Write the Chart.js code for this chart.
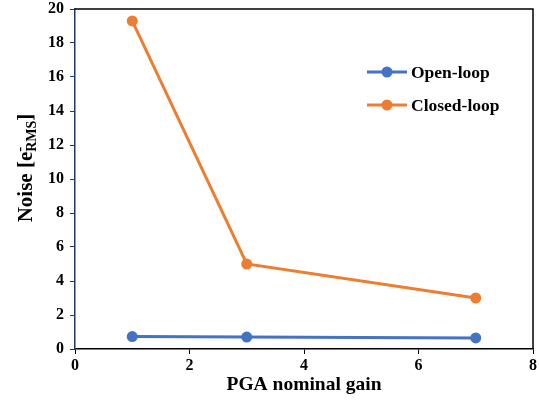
<!DOCTYPE html>
<html>
<head>
<meta charset="utf-8">
<script src="https://cdn.jsdelivr.net/npm/chart.js@4/dist/chart.umd.min.js"></script>
<style>
  html, body { margin: 0; padding: 0; background: #fff; }
  #wrap { width: 539px; height: 400px; position: relative; }
</style>
</head>
<body>
<div id="wrap"><canvas id="myChart"></canvas></div>
<script>
const gain = [1, 3, 7];
const openLoop = [0.73, 0.70, 0.65];
const closedLoop = [19.3, 5.0, 3.0];

const serif = "'Liberation Serif', 'Times New Roman', serif";

// box on top/right + legend + y title with sub/superscript
const extras = {
    id: 'extras',
    afterDraw(chart) {
        const c = chart.ctx;
        const a = chart.chartArea;
        c.save();
        c.strokeStyle = '#000';
        c.lineWidth = 1.5;
        c.beginPath();
        c.moveTo(a.left, a.top);
        c.lineTo(a.right, a.top);
        c.lineTo(a.right, a.bottom);
        c.stroke();

        // legend
        const rows = [72, 105];
        chart.data.datasets.forEach((ds, i) => {
            const y = rows[i];
            c.strokeStyle = ds.borderColor;
            c.lineWidth = 3;
            c.beginPath();
            c.moveTo(367, y);
            c.lineTo(407, y);
            c.stroke();
            c.fillStyle = ds.backgroundColor;
            c.beginPath();
            c.arc(387, y, 5.5, 0, Math.PI * 2);
            c.fill();
            c.fillStyle = '#000';
            c.font = 'bold 17.5px ' + serif;
            c.textBaseline = 'middle';
            c.textAlign = 'left';
            c.fillText(ds.label, 411, y + 1);
        });

        // y axis title
        c.translate(27, 168);
        c.rotate(-Math.PI / 2);
        c.fillStyle = '#000';
        c.textBaseline = 'middle';
        c.textAlign = 'left';
        const parts = [
            ['Noise [e', 'bold 21px', 0],
            ['-', 'bold 15px', -7],
            ['RMS', 'bold 14px', 5],
            [']', 'bold 21px', 0]
        ];
        let w = 0;
        parts.forEach((p, i) => { if (i === 1) return; c.font = p[1] + ' ' + serif; w += c.measureText(p[0]).width; });
        let x = -w / 2;
        parts.forEach((p, i) => {
            c.font = p[1] + ' ' + serif;
            c.fillText(p[0], x, p[2]);
            // superscript minus sits over the subscript
            if (i === 1) return;
            x += c.measureText(p[0]).width;
        });
        c.restore();
    }
};

new Chart(document.getElementById('myChart'), {
    type: 'line',
    data: {
        datasets: [{
            label: 'Open-loop',
            data: gain.map((g, i) => ({ x: g, y: openLoop[i] })),
            borderColor: '#4472C4',
            backgroundColor: '#4472C4',
            borderWidth: 3,
            pointRadius: 5.5,
            pointBorderWidth: 0,
            pointHoverRadius: 5.5
        }, {
            label: 'Closed-loop',
            data: gain.map((g, i) => ({ x: g, y: closedLoop[i] })),
            borderColor: '#ED7D31',
            backgroundColor: '#ED7D31',
            borderWidth: 3,
            pointRadius: 5.5,
            pointBorderWidth: 0,
            pointHoverRadius: 5.5
        }]
    },
    options: {
        responsive: true,
        maintainAspectRatio: false,
        animation: false,
        layout: { padding: { top: 9, right: 6, left: 0, bottom: 0 } },
        plugins: { legend: { display: false }, tooltip: { enabled: false } },
        scales: {
            x: {
                type: 'linear',
                min: 0,
                max: 8,
                afterFit: s => { s.height = 51; s.paddingRight = 0; s.paddingLeft = 0; },
                ticks: { stepSize: 2, color: '#000', font: { family: serif, size: 16, weight: 'bold' }, padding: 2 },
                grid: { drawOnChartArea: false, tickLength: 5, color: '#000' },
                border: { color: '#000', width: 1.5 },
                title: { display: true, text: 'PGA nominal gain', color: '#000', font: { family: serif, size: 19.5, weight: 'bold' }, padding: { top: 0, bottom: 3 } }
            },
            y: {
                min: 0,
                max: 20,
                afterFit: s => { s.width = 75; s.paddingTop = 0; s.paddingBottom = 0; },
                ticks: { stepSize: 2, color: '#000', font: { family: serif, size: 16, weight: 'bold' }, padding: 6 },
                grid: { drawOnChartArea: false, tickLength: 5, color: '#1F3864' },
                border: { color: '#1F3864', width: 1.5 }
            }
        }
    },
    plugins: [extras]
});
</script>
</body>
</html>
